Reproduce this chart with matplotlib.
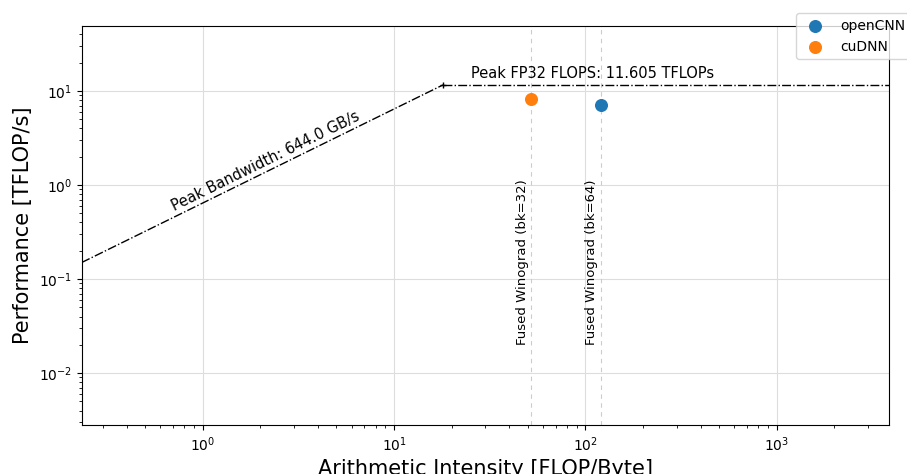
import numpy as np
import matplotlib
matplotlib.use("Agg")
import matplotlib.pyplot as plt

# machine roofline
peak_bw = 644.0          # GB/s
peak_flops = 11.605      # TFLOP/s

# measured kernels
labels = ["openCNN", "cuDNN"]
intensity = [120.0, 52.0]
perf = [7.1, 8.2]
annot = ["Fused Winograd (bk=64)", "Fused Winograd (bk=32)"]
colors = ["tab:blue", "tab:orange"]

x_min, x_max = 0.233, 3850
y_min, y_max = 0.0028, 49

ridge = peak_flops / (peak_bw / 1000)

fig, ax = plt.subplots(figsize=(9.07, 4.74), dpi=100)
fig.subplots_adjust(left=0.09, right=0.98, top=0.945, bottom=0.103)

ax.set_xscale("log")
ax.set_yscale("log")
ax.set_xlim(x_min, x_max)
ax.set_ylim(y_min, y_max)
ax.grid(True, which="major", color="#dddddd", linewidth=0.8)
ax.set_axisbelow(True)

# roofline
ax.plot([x_min, ridge], [x_min * peak_bw / 1000, peak_flops], color="black", linestyle="-.", linewidth=1)
ax.plot([ridge, x_max], [peak_flops, peak_flops], color="black", linestyle="-.", linewidth=1)
ax.plot([ridge], [peak_flops], marker="+", color="black", markersize=5, markeredgewidth=1)

ax.text(0.72, 0.5, "Peak Bandwidth: %.1f GB/s" % peak_bw, rotation=26.2,
        rotation_mode="anchor", ha="left", va="bottom", fontsize=10.5)
ax.text(25.2, 12.8, "Peak FP32 FLOPS: %.3f TFLOPs" % peak_flops,
        ha="left", va="bottom", fontsize=10.5)

for x, y, lab, note, c in zip(intensity, perf, labels, annot, colors):
    ax.axvline(x, color="#cccccc", linestyle=(0, (4, 4)), linewidth=0.8, zorder=1)
    ax.scatter([x], [y], s=70, color=c, label=lab, zorder=3)
    ax.text(x * 0.97, 0.02, note, rotation=90, ha="right", va="bottom", fontsize=9.5)

ax.set_xlabel("Arithmetic Intensity [FLOP/Byte]", fontsize=15)
ax.set_ylabel("Performance [TFLOP/s]", fontsize=15)
ax.legend(loc="upper right", bbox_to_anchor=(1.036, 1.05), fontsize=10)

fig.savefig("out.png", dpi=100)
